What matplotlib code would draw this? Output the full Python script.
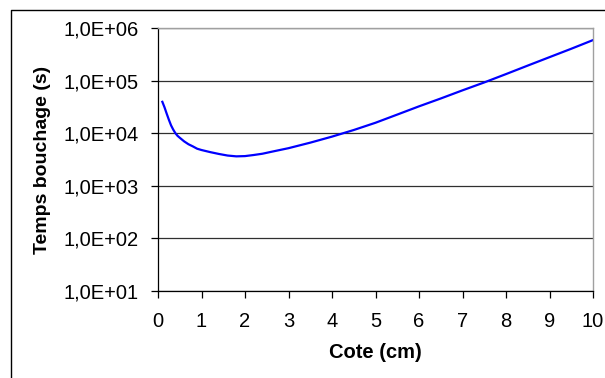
import math
import matplotlib
matplotlib.use("Agg")
import matplotlib.pyplot as plt
from matplotlib.lines import Line2D
from matplotlib.ticker import FixedLocator, NullLocator, FuncFormatter

cote_cm = [0.1, 0.15, 0.2, 0.25, 0.3, 0.35, 0.4, 0.45, 0.5, 0.6, 0.7, 0.8, 0.9, 1.0,
           1.2, 1.4, 1.6, 1.8, 2.0, 2.2, 2.4, 2.6, 2.8, 3.0, 3.5, 4.0, 4.5,
           5.0, 5.5, 6.0, 6.5, 7.0, 7.5, 8.0, 8.5, 9.0, 9.5, 10.0]
temps_s = [39500, 31000, 23500, 18000, 14100, 11700, 10000, 8900, 8200, 7000,
           6170, 5620, 5070, 4790, 4370, 4030, 3760, 3630, 3670, 3850, 4070,
           4420, 4790, 5190, 6610, 8610, 11500, 15800, 22600, 32400, 45700,
           65300, 92300, 133000, 193000, 279000, 403000, 589000]
y_ticks = [1e1, 1e2, 1e3, 1e4, 1e5, 1e6]
x_ticks = list(range(0, 11))

plt.rcParams['font.family'] = ['Liberation Sans', 'DejaVu Sans']

fig = plt.figure(figsize=(6.05, 3.78), dpi=100)
ax = fig.add_axes([158/605, 1-291/378, (593-158)/605, (291-28)/378])

ax.plot(cote_cm, temps_s, color='#0000FF', lw=1.6)
ax.set_yscale('log')
ax.set_xlim(0, 10)
ax.set_ylim(1e1, 1e6)

ax.yaxis.set_major_locator(FixedLocator(y_ticks))
ax.yaxis.set_minor_locator(NullLocator())
ax.yaxis.set_major_formatter(FuncFormatter(lambda v, p: "1,0E+%02d" % round(math.log10(v))))
ax.set_xticks(x_ticks)

ax.grid(axis='y', color='#303030', lw=0.9)
ax.set_axisbelow(True)
ax.tick_params(direction='out', length=5, width=0.9, color='black', labelsize=14.5)
ax.tick_params(axis='y', pad=9)
ax.tick_params(axis='x', pad=10)

for s in ['left', 'bottom']:
    ax.spines[s].set_color('black')
    ax.spines[s].set_linewidth(0.9)
for s in ['top', 'right']:
    ax.spines[s].set_color('#a0a0a0')
    ax.spines[s].set_linewidth(1.0)

ax.set_ylabel('Temps bouchage (s)', fontsize=14, fontweight='bold', labelpad=9)
ax.set_xlabel('Cote (cm)', fontsize=14.5, fontweight='bold', labelpad=9)

# outer chart frame
fl = 11/605
ft = 1 - 10/378
fig.add_artist(Line2D([fl, fl, 1.01], [-0.01, ft, ft], transform=fig.transFigure, color='black', lw=1.0))

fig.savefig('out.png', dpi=100)
